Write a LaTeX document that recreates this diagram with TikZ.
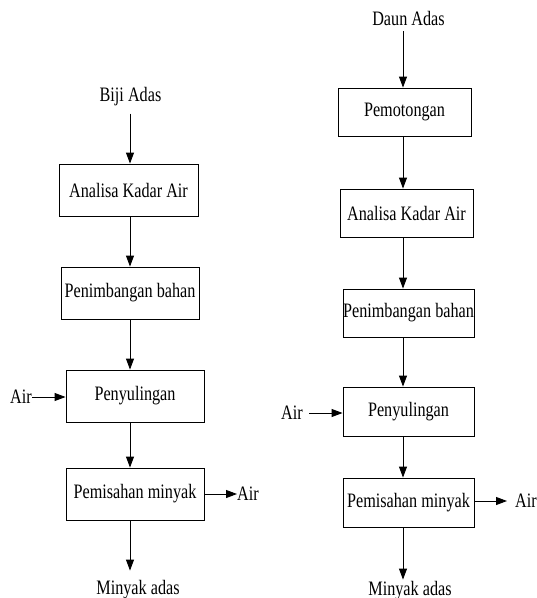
\documentclass[tikz,border=0pt]{standalone}
\usepackage{fontspec}
\setmainfont{Liberation Serif}[FakeStretch=0.79]
\usetikzlibrary{arrows.meta}
\begin{document}
\begin{tikzpicture}[x=1pt,y=-1pt,
  font=\fontsize{20.5}{23}\selectfont,
  box/.style={draw, line width=0.9pt, inner sep=0pt, align=center},
  lbl/.style={inner sep=0pt},
  arr/.style={line width=0.9pt, -{Triangle[length=11pt,width=8pt]}}]
\useasboundingbox (0,0) rectangle (537,598);
\coordinate (lx) at (130,0);
\coordinate (rx) at (403,0);
% ---------- left column ----------
\node[lbl, anchor=base] (bij) at (130.5,101) {Biji Adas};
\node[box, minimum width=139pt, minimum height=52pt] (L1) at (128.5,190) {Analisa Kadar Air};
\node[box, minimum width=138pt, minimum height=52pt] (L2) at (130,293) {Penimbangan bahan};
\node[box, minimum width=138pt, minimum height=52pt] (L3) at (135,396) {Penyulingan};
\node[box, minimum width=138pt, minimum height=52pt] (L4) at (135,494) {Pemisahan minyak};
\node[lbl, anchor=base] (myaL) at (138,594) {Minyak adas};
\node[lbl, anchor=east] (airLi) at (32,397) {Air};
\node[lbl, anchor=west] (airLo) at (237,494) {Air};
\draw[arr, shorten <=8pt] (bij.south -| lx) -- (L1.north -| lx);
\draw[arr] (L1.south -| lx) -- (L2.north -| lx);
\draw[arr] (L2.south -| lx) -- (L3.north -| lx);
\draw[arr] (L3.south -| lx) -- (L4.north -| lx);
\draw[arr, shorten >=9pt] (L4.south -| lx) -- (myaL.north -| lx);
\draw[arr] (airLi.east) -- (airLi.east -| L3.west);
\draw[arr] (L4.east) -- (airLo.west);
% ---------- right column ----------
\node[lbl, anchor=base] (daun) at (408.5,25) {Daun Adas};
\node[box, minimum width=133pt, minimum height=48pt] (R1) at (404.5,112) {Pemotongan};
\node[box, minimum width=133pt, minimum height=48pt] (R2) at (406.5,213) {Analisa Kadar Air};
\node[box, minimum width=131pt, minimum height=48pt] (R3) at (408.5,313) {Penimbangan bahan};
\node[box, minimum width=131pt, minimum height=49pt] (R4) at (408.5,411.5) {Penyulingan};
\node[box, minimum width=131pt, minimum height=49pt] (R5) at (408.5,502.5) {Pemisahan minyak};
\node[lbl, anchor=base] (myaR) at (410,595) {Minyak adas};
\node[lbl, anchor=east] (airRi) at (303,413) {Air};
\node[lbl, anchor=west] (airRo) at (515,501) {Air};
\draw[arr, shorten <=6pt] (daun.south -| rx) -- (R1.north -| rx);
\draw[arr] (R1.south -| rx) -- (R2.north -| rx);
\draw[arr] (R2.south -| rx) -- (R3.north -| rx);
\draw[arr] (R3.south -| rx) -- (R4.north -| rx);
\draw[arr] (R4.south -| rx) -- (R5.north -| rx);
\draw[arr, shorten >=1pt] (R5.south -| rx) -- (myaR.north -| rx);
\draw[arr, shorten <=6pt] (airRi.east) -- (airRi.east -| R4.west);
\draw[arr, shorten >=8pt] (R5.east |- airRo.west) -- (airRo.west);
\end{tikzpicture}
\end{document}
